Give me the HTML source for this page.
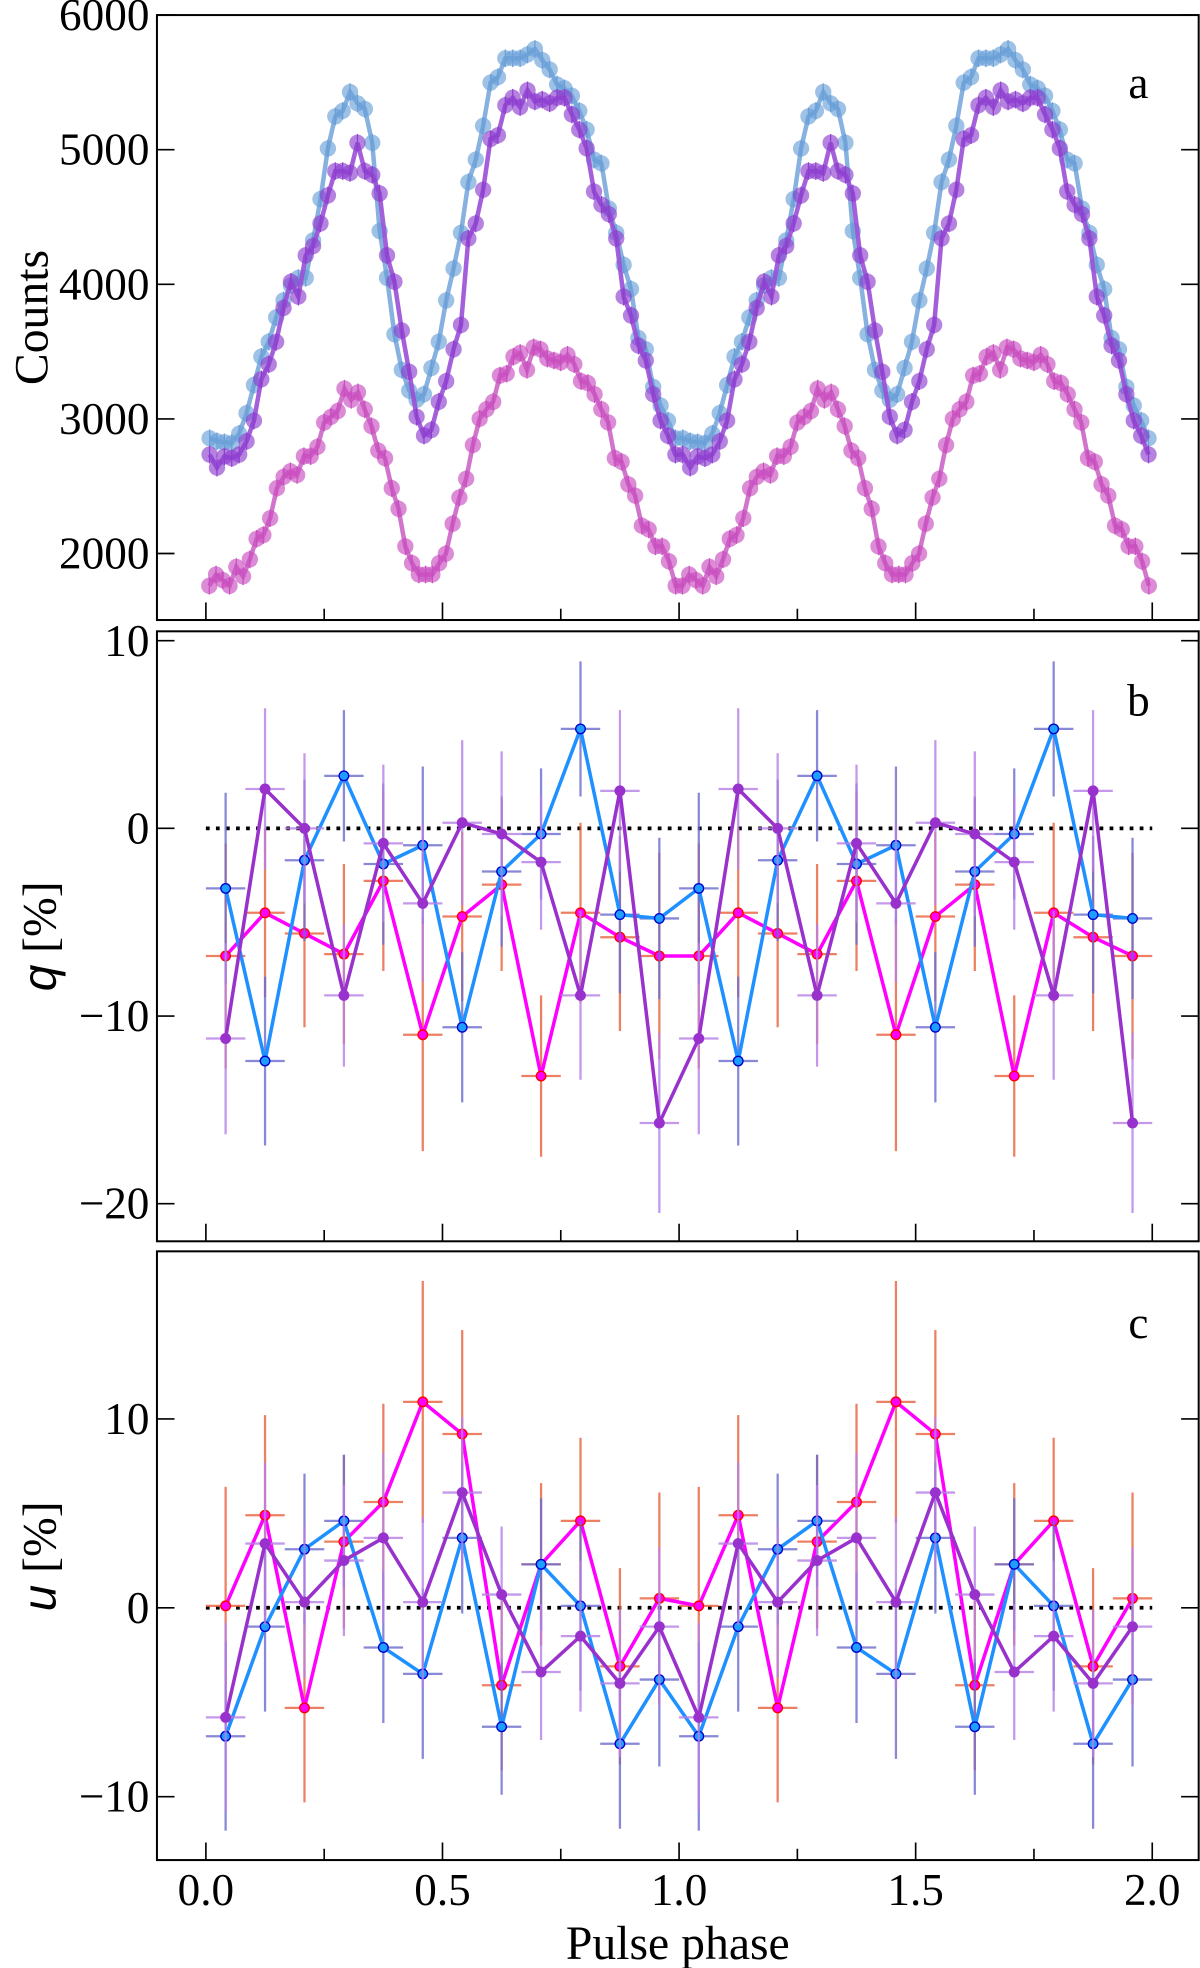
<!DOCTYPE html>
<html><head><meta charset="utf-8"><style>
html,body{margin:0;padding:0;background:#fff}
svg{display:block}
text{font-family:"Liberation Serif",serif;fill:#000}
</style></head><body>
<svg id="chart" width="1200" height="1968" viewBox="0 0 956 1568" xmlns="http://www.w3.org/2000/svg"></svg>
<script>
// ---- Panel a data (one cycle, repeated for phase 1-2) ----
const countsBlue = [2856,2834,2826,2820,2890,3043,3252,3462,3573,3754,3880,3991,4047,4047,4326,4633,5009,5247,5288,5428,5344,5302,5051,4396,4047,3629,3364,3210,3141,3183,3378,3573,3880,4117,4382,4759,4926,5177,5498,5539,5679,5679,5679,5707,5749,5665,5595,5484,5456,5400,5288,5149,4926,4898,4563,4382,4145,3964,3601,3517,3238,3099,2988,2856];
const countsPurple = [2735,2638,2721,2708,2735,2833,2987,3294,3405,3572,3824,4019,3908,4215,4284,4452,4660,4841,4841,4827,5051,4841,4813,4675,4215,4019,3656,3350,3016,2876,2918,3127,3280,3517,3698,4340,4451,4702,5079,5107,5330,5386,5316,5441,5358,5372,5344,5386,5386,5261,5149,5010,4689,4591,4521,4340,3908,3768,3545,3434,3183,2987,2875,2735];
const countsPink = [1760,1844,1802,1760,1900,1830,1956,2109,2137,2262,2485,2569,2611,2583,2723,2723,2792,2973,3015,3058,3225,3141,3197,3071,2946,2764,2708,2485,2332,2053,1928,1844,1844,1844,1928,1998,2221,2416,2555,2806,3001,3071,3127,3322,3336,3462,3490,3364,3531,3517,3448,3434,3420,3476,3406,3280,3266,3183,3071,2974,2708,2681,2513,2430,2206,2179,2053,2053,1942,1760];
// ---- Panel b/c data (12 phase bins, repeated) ----
const qBlue = [-3.2,-12.4,-1.7,2.8,-1.9,-0.9,-10.6,-2.3,-0.3,5.3,-4.6,-4.8];
const qBlueErr = [5.1,4.5,4.3,3.5,4.3,4.2,4.0,4.0,3.5,3.6,4.2,4.3];
const qPurple = [-11.2,2.1,0.0,-8.9,-0.8,-4.0,0.3,-0.3,-1.8,-8.9,2.0,-15.7];
const qPurpleErr = [5.1,4.3,4.0,3.8,4.2,4.2,4.4,4.4,3.6,4.5,4.3,4.8];
const qPink = [-6.8,-4.5,-5.6,-6.7,-2.8,-11.0,-4.7,-3.0,-13.2,-4.5,-5.8,-6.8];
const qPinkErr = [6.0,4.5,5.0,4.8,4.8,6.2,4.5,4.6,4.3,4.8,5.0,5.5];
const uBlue = [-6.8,-1.0,3.1,4.6,-2.1,-3.5,3.7,-6.3,2.3,0.1,-7.2,-3.8];
const uBlueErr = [5.0,4.5,4.0,3.5,4.0,4.5,4.0,3.6,3.5,4.5,4.5,4.6];
const uPurple = [-5.8,3.4,0.3,2.5,3.7,0.3,6.1,0.7,-3.4,-1.5,-4.0,-1.0];
const uPurpleErr = [5.0,4.3,4.0,4.0,4.5,4.5,4.0,3.6,3.6,4.0,3.9,4.2];
const uPink = [0.1,4.9,-5.3,3.5,5.6,10.9,9.2,-4.1,2.3,4.6,-3.1,0.5];
const uPinkErr = [6.3,5.3,5.0,4.6,5.2,6.4,5.5,4.5,4.3,4.4,5.2,5.6];
const xTickLabels = ["0.0","0.5","1.0","1.5","2.0"];

const NS = "http://www.w3.org/2000/svg";
const svg = document.getElementById('chart');
function mk(tag, attrs, parent){ const e=document.createElementNS(NS,tag); for(const k in attrs) e.setAttribute(k,attrs[k]); (parent||svg).appendChild(e); return e; }

const L=125, R=955;
const xs = p => 164 + 377*p;
const panels = {
  a:{top:12,bottom:494, y:v=>12+(6000-v)*0.10725},
  b:{top:503,bottom:989, y:v=>660-v*14.95},
  c:{top:997,bottom:1482, y:v=>1281-v*15.05}
};
const FS = 36;

function frame(P, name, yticks, fmt){
  const g = mk('g',{});
  
  
  for(let k=0;k<=8;k++){
    const x=xs(k*0.25), len=(k%2===0)?14:9;
    const t=mk('line',{x1:x,x2:x,y1:P.bottom,y2:P.bottom-len,stroke:'#000','stroke-width':1.3},g);
     
  }
  yticks.forEach(v=>{
    const y=P.y(v);
    mk('line',{x1:L,x2:L+14,y1:y,y2:y,stroke:'#000','stroke-width':1.3},g);
    mk('line',{x1:R-14,x2:R,y1:y,y2:y,stroke:'#000','stroke-width':1.3},g);
    const tx=mk('text',{x:L-6,y:y+12,'text-anchor':'end','font-size':FS},g);
    tx.textContent=fmt(v);
     
  });
  const r=mk('rect',{x:L,y:P.top,width:R-L,height:P.bottom-P.top,fill:'none',stroke:'#000','stroke-width':1.6},g);
   
}
const fmtNum = v => (v<0?'\u2212':'')+Math.abs(v);

// ---- Panel a ----
frame(panels.a,'panel-a',[2000,3000,4000,5000,6000],v=>String(v));
function drawCounts(arr, color, lineColor, name){
  const P=panels.a, n=arr.length, g=mk('g',{});
   
  const pts=[];
  for(let c=0;c<2;c++) arr.forEach((v,i)=>pts.push([xs(c+(i+0.5)/n),P.y(v)]));
  mk('polyline',{points:pts.map(p=>p.join(',')).join(' '),fill:'none',stroke:lineColor,'stroke-width':3.6,'stroke-opacity':0.9},g);
  pts.forEach(p=>{
    const m=mk('circle',{cx:p[0],cy:p[1],r:6.5,fill:color,'fill-opacity':0.65},g);
     
    mk('line',{x1:p[0],x2:p[0],y1:p[1]-7,y2:p[1]+7,stroke:color,'stroke-width':1},g);
  });
}
drawCounts(countsPink,'#c94fc0','#cc66c6','counts-pink-series');
drawCounts(countsBlue,'#6a9fd8','#7aa8dc','counts-blue-series');
drawCounts(countsPurple,'#8e3fd0','#9a4fd6','counts-purple-series');
let t=mk('text',{x:38,y:253,'text-anchor':'middle','font-size':38,transform:'rotate(-90 38 253)'});
t.textContent='Counts';  
t=mk('text',{x:907,y:78,'text-anchor':'middle','font-size':36}); t.textContent='a';
 

// ---- Panels b, c ----
function drawPol(P, vals, errs, cfg, name){
  const n=vals.length, g=mk('g',{});
   
  const pts=[];
  for(let c=0;c<2;c++) vals.forEach((v,i)=>pts.push([xs(c+(i+0.5)/n),P.y(v),errs[i],v]));
  const hw=377/n/2;
  pts.forEach(p=>{
    mk('line',{x1:p[0],x2:p[0],y1:P.y(p[3]+p[2]),y2:P.y(p[3]-p[2]),stroke:cfg.err,'stroke-width':1.8,'stroke-opacity':0.8},g);
    mk('line',{x1:p[0]-hw,x2:p[0]+hw,y1:p[1],y2:p[1],stroke:cfg.err,'stroke-width':1.8,'stroke-opacity':0.8},g);
  });
  mk('polyline',{points:pts.map(p=>p[0]+','+p[1]).join(' '),fill:'none',stroke:cfg.line,'stroke-width':2.8},g);
  pts.forEach(p=>{
    const m=mk('circle',{cx:p[0],cy:p[1],r:3.8,fill:cfg.fill,stroke:cfg.edge,'stroke-width':1.1},g);
     
  });
}
const cBlue={line:'#1e90ff',fill:'#1e9fff',edge:'#0000cd',err:'#6a6acd'};
const cPurple={line:'#9932cc',fill:'#9932cc',edge:'#9932cc',err:'#b57ee6'};
const cPink={line:'#ff00ff',fill:'#ff00ff',edge:'#ff0000',err:'#e8603c'};

frame(panels.b,'panel-b',[-20,-10,0,10],fmtNum);
mk('line',{x1:xs(0),x2:xs(2),y1:panels.b.y(0),y2:panels.b.y(0),stroke:'#000','stroke-width':3,'stroke-dasharray':'3 5'});
drawPol(panels.b,qPink,qPinkErr,cPink,'q-pink-series');
drawPol(panels.b,qBlue,qBlueErr,cBlue,'q-blue-series');
drawPol(panels.b,qPurple,qPurpleErr,cPurple,'q-purple-series');
t=mk('text',{x:44,y:746,'text-anchor':'middle','font-size':38,transform:'rotate(-90 44 746)'});
t.innerHTML='<tspan font-style="italic" font-family="Liberation Sans">q</tspan> [%]';
 
t=mk('text',{x:907,y:570,'text-anchor':'middle','font-size':36}); t.textContent='b';
 

frame(panels.c,'panel-c',[-10,0,10],fmtNum);
mk('line',{x1:xs(0),x2:xs(2),y1:panels.c.y(0),y2:panels.c.y(0),stroke:'#000','stroke-width':3,'stroke-dasharray':'3 5'});
drawPol(panels.c,uPink,uPinkErr,cPink,'u-pink-series');
drawPol(panels.c,uBlue,uBlueErr,cBlue,'u-blue-series');
drawPol(panels.c,uPurple,uPurpleErr,cPurple,'u-purple-series');
t=mk('text',{x:44,y:1240,'text-anchor':'middle','font-size':38,transform:'rotate(-90 44 1240)'});
t.innerHTML='<tspan font-style="italic" font-family="Liberation Sans">u</tspan> [%]';
 
t=mk('text',{x:907,y:1066,'text-anchor':'middle','font-size':36}); t.textContent='c';
 

xTickLabels.forEach((s,i)=>{
  const tx=mk('text',{x:xs(i*0.5),y:1518,'text-anchor':'middle','font-size':FS});
  tx.textContent=s;
   
});
t=mk('text',{x:540,y:1561,'text-anchor':'middle','font-size':38}); t.textContent='Pulse phase';
 
</script>
</body></html>
